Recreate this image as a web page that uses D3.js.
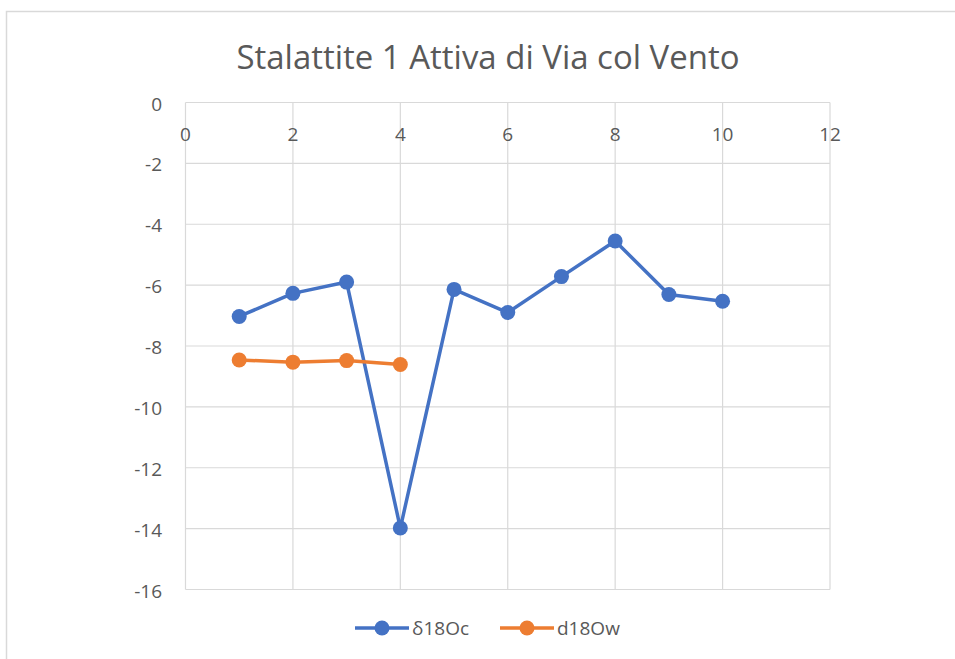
<!DOCTYPE html>
<html lang="it">
<head>
    <meta charset="UTF-8">
    <title>Stalattite 1 Attiva di Via col Vento</title>
    <style>
        body {
            margin: 0;
            background: #fff;
            font-family: "Open Sans", "Noto Sans", sans-serif;
        }

        .grid line {
            stroke: #d9d9d9;
            stroke-width: 1.2;
        }

        .tick-label {
            fill: #595959;
            font-size: 19px;
        }
    </style>
</head>
<body>
    <svg id="chart" width="955" height="659"></svg>

    <script src="https://d3js.org/d3.v7.min.js"></script>
    <script>
        // data
        const xValues = [1, 2, 3, 4, 5, 6, 7, 8, 9, 10];
        const d18Oc = [-7.03, -6.27, -5.90, -13.98, -6.14, -6.90, -5.72, -4.55, -6.31, -6.53];
        const xValuesW = [1, 2, 3, 4];
        const d18Ow = [-8.46, -8.53, -8.48, -8.61];
        const xTicks = [0, 2, 4, 6, 8, 10, 12];
        const yTicks = [0, -2, -4, -6, -8, -10, -12, -14, -16];

        const series = [
            { name: "δ18Oc", xs: xValues, ys: d18Oc, color: "#4472C4" },
            { name: "d18Ow", xs: xValuesW, ys: d18Ow, color: "#ED7D31" }
        ];

        const svg = d3.select("#chart");

        // chart border
        svg.append("rect")
            .attr("x", 6.5).attr("y", 11.5)
            .attr("width", 960).attr("height", 660)
            .attr("fill", "none")
            .attr("stroke", "#d9d9d9")
            .attr("stroke-width", 1.5);

        const x = d3.scaleLinear().domain([0, 12]).range([185.5, 830]);
        const y = d3.scaleLinear().domain([0, -16]).range([102.5, 589.5]);

        // gridlines
        const grid = svg.append("g").attr("class", "grid");
        grid.selectAll(".v").data(xTicks).join("line")
            .attr("x1", d => x(d)).attr("x2", d => x(d))
            .attr("y1", y(0)).attr("y2", y(-16));
        grid.selectAll(".h").data(yTicks).join("line")
            .attr("x1", x(0)).attr("x2", x(12))
            .attr("y1", d => y(d)).attr("y2", d => y(d));

        // tick labels
        svg.selectAll(".xl").data(xTicks).join("text")
            .attr("class", "tick-label")
            .attr("x", d => x(d))
            .attr("y", 141)
            .attr("text-anchor", "middle")
            .text(d => d);

        svg.selectAll(".yl").data(yTicks).join("text")
            .attr("class", "tick-label")
            .attr("x", 162)
            .attr("y", d => y(d) + 8)
            .attr("text-anchor", "end")
            .text(d => d);

        // title
        svg.append("text")
            .attr("x", 488)
            .attr("y", 69)
            .attr("text-anchor", "middle")
            .attr("fill", "#595959")
            .attr("font-size", "32px")
            .attr("textLength", 503)
            .attr("lengthAdjust", "spacingAndGlyphs")
            .text("Stalattite 1 Attiva di Via col Vento");

        // lines and markers
        const line = d3.line().x(d => x(d[0])).y(d => y(d[1]));

        series.forEach(s => {
            const pts = s.xs.map((v, i) => [v, s.ys[i]]);
            svg.append("path")
                .datum(pts)
                .attr("d", line)
                .attr("fill", "none")
                .attr("stroke", s.color)
                .attr("stroke-width", 3.5)
                .attr("stroke-linejoin", "round");
            svg.selectAll(null).data(pts).join("circle")
                .attr("cx", d => x(d[0]))
                .attr("cy", d => y(d[1]))
                .attr("r", 7.5)
                .attr("fill", s.color);
        });

        // legend
        const legendX = [355, 500];
        series.forEach((s, i) => {
            const g = svg.append("g").attr("transform", `translate(${legendX[i]},628)`);
            g.append("line")
                .attr("x1", 0).attr("x2", 54)
                .attr("stroke", s.color).attr("stroke-width", 3.5);
            g.append("circle").attr("cx", 27).attr("r", 7.5).attr("fill", s.color);
            g.append("text")
                .attr("x", 57).attr("y", 7)
                .attr("class", "tick-label")
                .attr("font-size", "20px")
                .text(s.name);
        });
    </script>
</body>
</html>
